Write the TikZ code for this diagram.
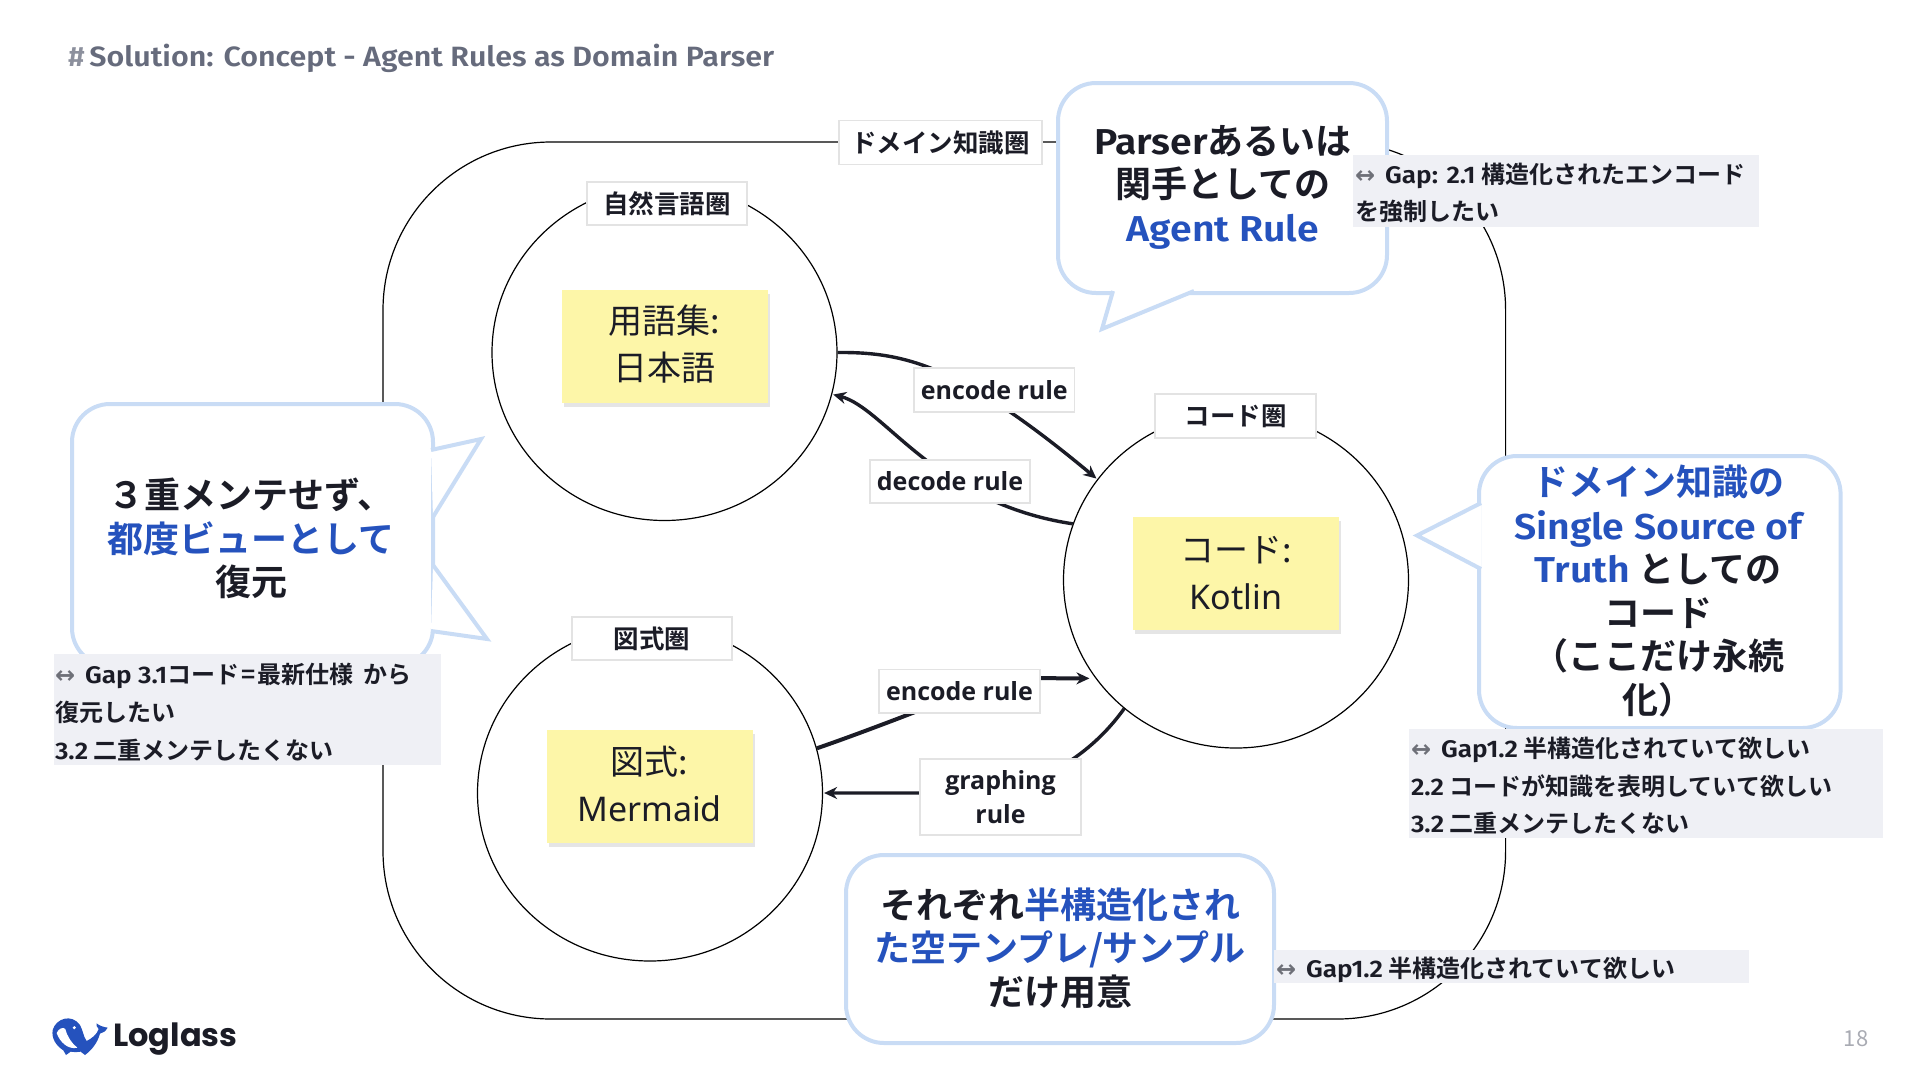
\documentclass[tikz,border=0pt]{standalone}
\usepackage{fontspec}
\setmainfont{Noto Sans CJK JP}[BoldFont=* Bold]
\newfontfamily\latb{Fira Sans}[UprightFont=* Medium,BoldFont=* SemiBold,FakeStretch=1.09]
\newfontfamily\notosans{Noto Sans}
\newfontfamily\opensans{Open Sans}
\newfontfamily\popfont{Poppins}[BoldFont=* Bold]
\newfontfamily\djfont{DejaVu Sans}
\newcommand{\lat}[1]{{\latb #1}}
\newcommand{\gapicon}{{\djfont\color{iconc}\fontsize{24}{24}\selectfont ↔}\hspace{10pt}}
\usetikzlibrary{arrows.meta,shadows,calc,shapes.geometric}
\definecolor{inkc}{HTML}{1B1C26}
\definecolor{bluec}{HTML}{2552BD}
\definecolor{bubblec}{HTML}{C9DCF5}
\definecolor{gapc}{HTML}{EFF0F5}
\definecolor{titlec}{HTML}{666B7C}
\definecolor{stickyc}{HTML}{FDF6A8}
\definecolor{labelb}{HTML}{E3E3E3}
\definecolor{iconc}{HTML}{6E7078}
\definecolor{pagec}{HTML}{A9ABB3}
\tikzset{
  ring/.style={ellipse,draw=black,line width=1.2pt,fill=white,inner sep=0pt,minimum width=345pt,minimum height=336pt},
  rim/.style={draw=black,line width=1.2pt,rounded corners=168pt,inner sep=0pt},
  tag/.style={draw=labelb,line width=1.4pt,fill=white,inner sep=0pt,text=inkc,align=center},
  tagcjk/.style={tag,font=\fontsize{25.5}{30}\selectfont\bfseries},
  taglat/.style={tag,font=\opensans\fontsize{25}{33.5}\selectfont\bfseries},
  sticky/.style={fill=stickyc,inner sep=0pt,minimum width=206pt,minimum height=113pt,align=center,text=inkc,
     font=\fontsize{34}{47}\selectfont,drop shadow={shadow xshift=2pt,shadow yshift=-4pt,opacity=.1,fill=black}},
  stickytext/.style={inner sep=0pt,align=center,text=inkc,font=\fontsize{34}{47}\selectfont},
  bubble/.style={draw=bubblec,line width=4pt,fill=white,rounded corners=38pt,inner sep=0pt},
  bubbletail/.style={draw=bubblec,line width=4pt,fill=white,miter limit=10},
  saytext/.style={align=center,text=inkc,inner sep=0pt,font=\fontsize{36}{43.5}\selectfont\bfseries},
  gapbg/.style={fill=gapc,inner sep=0pt},
  gaptext/.style={anchor=west,inner sep=0pt,align=left,text=inkc,font=\fontsize{24}{37.7}\selectfont\bfseries},
  flow/.style={draw=inkc,line width=3.4pt},
  flowhead/.style={flow,-{Stealth[length=13pt,width=12pt]},shorten >=1pt},
}
\begin{document}
\begin{tikzpicture}[x=1pt,y=-1pt]
\useasboundingbox (0,0) rectangle (1920,1080);
% title
\node[anchor=west,inner sep=0pt,text=titlec,font=\latb\fontsize{27.9}{34}\selectfont\bfseries] (title) at (68,58) {\textcolor{titlec!75}{\#}\,Solution: Concept - Agent Rules as Domain Parser};
% frame and rings
\node[rim,minimum width=1122.6pt,minimum height=877pt] (frame) at (944.3,580.5) {};
\node[ring] (c1) at (664.5,352.5) {};
\node[ring] (c2) at (650,793) {};
\node[ring] (c3) at (1236,580) {};
% connectors
\draw[flowhead] (c1.0) .. controls (905,352) and (960,365) .. (c3.144.5);
\draw[flowhead] (c3.161.8) .. controls (935,503) and (885,408) .. (c1.-14);
\draw[flowhead,shorten >=6pt,line width=4pt] (c2.15.8) .. controls (870,730) and (960,695) .. (1000,678) -- (c3.215);
\draw[flowhead] (c3.229.5) .. controls (1098,745) and (1060,775) .. (1000,793) -- (c2.0);
% labels
\node[tagcjk,minimum width=203pt,minimum height=43.5pt] (ldomain) at (940.5,142.5) {ドメイン知識圏};
\node[tagcjk,minimum width=160pt,minimum height=43pt] (lnat) at (667,203.5) {自然言語圏};
\node[tagcjk,minimum width=161pt,minimum height=44pt] (lcode) at (1235.5,416) {コード圏};
\node[tagcjk,minimum width=160pt,minimum height=43pt] (lfig) at (652,638.5) {図式圏};
\node[taglat,minimum width=160.5pt,minimum height=44pt] (enc1) at (994.3,390) {encode rule};
\node[taglat,minimum width=160pt,minimum height=43pt] (dec) at (950,481.5) {decode rule};
\node[taglat,minimum width=161pt,minimum height=43.5pt] (enc2) at (959.5,691.3) {encode rule};
\node[taglat,minimum width=161pt,minimum height=76pt] (gr) at (1000.5,797) {graphing\\rule};
% stickies
\node[sticky] (s1) at (665,346) {};
\node[stickytext] (st1) at (664,344.5) {用語集:\\日本語};
\node[sticky] (s2) at (649.5,786.5) {};
\node[stickytext] (st2) at (649.5,784) {図式:\\{\notosans Mermaid}};
\node[sticky] (s3) at (1236,573.5) {};
\node[stickytext] (st3) at (1236,573) {コード:\\{\notosans Kotlin}};
% callouts
\node[bubble,minimum width=329pt,minimum height=210pt] (b1) at (1222.5,188) {};
\filldraw[bubbletail] (1113,291) -- (1102,329) -- (1194,291);
\node[saytext] (t1) at (1223,187) {\lat{Parser}あるいは\\関手としての\\\textcolor{bluec}{\lat{Agent Rule}}};
\node[bubble,minimum width=361pt,minimum height=262pt] (b2) at (252.5,535) {};
\filldraw[bubbletail] (431,450) -- (481,439) -- (433,517);
\filldraw[bubbletail] (433,565) -- (487,639) -- (431,631);
\node[saytext] (t2) at (251,538.5) {３重メンテせず、\\\textcolor{bluec}{都度ビューとして}\\復元};
\node[bubble,minimum width=361.6pt,minimum height=272pt] (b3) at (1659.8,592) {};
\filldraw[bubbletail] (1481,503) -- (1417,535.5) -- (1481,569);
\node[saytext] (t3) at (1658,591) {\textcolor{bluec}{ドメイン知識の}\\\textcolor{bluec}{\lat{Single Source of}}\\\textcolor{bluec}{\lat{Truth}} としての\\コード\\（ここだけ永続\\化）};
\node[bubble,minimum width=428pt,minimum height=188pt] (b4) at (1060,949) {};
\node[saytext] (t4) at (1060,948) {それぞれ\textcolor{bluec}{半構造化され}\\\textcolor{bluec}{た空テンプレ/サンプル}\\だけ用意};
% gap notes
\node[gapbg,minimum width=406pt,minimum height=72pt] (g1) at (1556,191) {};
\node[gaptext] (gt1) at ($(g1.west)+(2,2)$) {\gapicon\lat{Gap: 2.1} 構造化されたエンコード\\を強制したい};
\node[gapbg,minimum width=387pt,minimum height=110.5pt] (g2) at (247.5,709.3) {};
\node[gaptext] (gt2) at ($(g2.west)+(1,3)$) {\gapicon\lat{Gap 3.1}コード\hspace{2pt}=\hspace{2pt}最新仕様\hspace{10pt}から\\復元したい\\\lat{3.2} 二重メンテしたくない};
\node[gapbg,minimum width=474pt,minimum height=109pt] (g3) at (1646,783.5) {};
\node[gaptext] (gt3) at ($(g3.west)+(2,2.5)$) {\gapicon\lat{Gap1.2} 半構造化されていて欲しい\\\lat{2.2} コードが知識を表明していて欲しい\\\lat{3.2} 二重メンテしたくない};
\node[gapbg,minimum width=475pt,minimum height=33.5pt] (g4) at (1511.5,966.7) {};
\node[gaptext] (gt4) at ($(g4.west)+(2,3)$) {\gapicon\lat{Gap1.2} 半構造化されていて欲しい};
% logo
\begin{scope}[shift={(40,1005)},x=0.3333pt,y=-0.3333pt]
\fill[bluec] (38,75) .. controls (48,40) and (95,25) .. (120,60) .. controls (130,78) and (130,95) .. (140,108) .. controls (155,100) and (170,90) .. (176,72) .. controls (170,66) and (168,60) .. (170,55) .. controls (178,62) and (190,66) .. (203,68) .. controls (197,78) and (190,84) .. (180,86) .. controls (172,115) and (155,135) .. (135,150) -- (122,140) .. controls (112,142) and (102,142) .. (92,140) -- (78,150) -- (70,136) .. controls (48,122) and (34,100) .. (38,75) -- cycle;
\fill[white] (50,84) .. controls (56,70) and (70,65) .. (76,72) .. controls (82,95) and (95,115) .. (112,128) .. controls (85,135) and (60,112) .. (50,84) -- cycle;
\fill[white] (103,68) circle[radius=5];
\end{scope}
\node[anchor=west,inner sep=0pt,text=inkc,font=\popfont\fontsize{32}{40}\selectfont\bfseries] (logo) at (113,1039) {Loglass};
\node[inner sep=0pt,text=pagec,font=\fontsize{22}{26}\selectfont] (page) at (1856,1039) {18};
\end{tikzpicture}
\end{document}
